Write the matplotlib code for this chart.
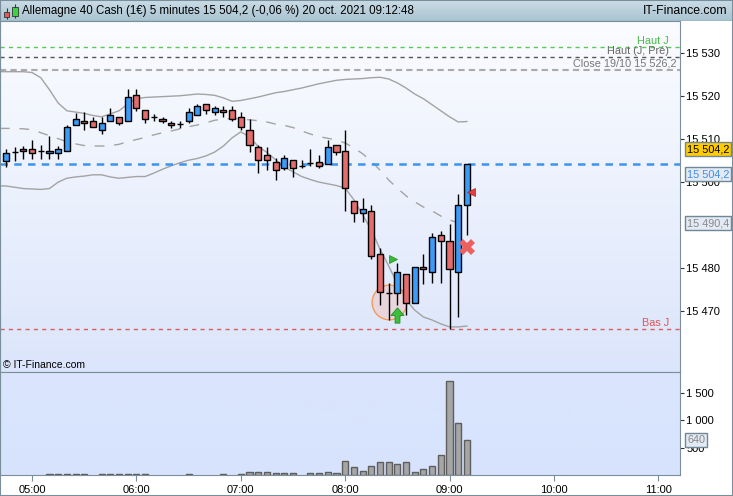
import matplotlib
matplotlib.use("Agg")
import matplotlib.pyplot as plt
import matplotlib.dates as mdates
import matplotlib.transforms as mtransforms
from matplotlib.colors import LinearSegmentedColormap
from matplotlib.patches import Rectangle
from matplotlib.path import Path
import numpy as np
import pandas as pd

plt.rcParams['font.family'] = ['Liberation Sans', 'DejaVu Sans']

# 5 minute bars, 04:45 -> 09:10
times = pd.date_range("2021-10-20 04:45", "2021-10-20 09:10", freq="5min")

opens = [15505.0, 15507.1, 15507.7, 15507.7, 15507.2, 15506.7, 15506.7, 15507.2, 15513.2, 15514.2,
         15514.2, 15512.1, 15514.2, 15515.1, 15514.2, 15520.2, 15516.7, 15515.1, 15514.6, 15513.7,
         15513.5, 15514.2, 15515.6, 15518.1, 15516.3, 15516.7, 15516.7, 15515.1, 15512.2, 15508.1,
         15506.3, 15504.6, 15503.2, 15505.1, 15503.7, 15504.4, 15504.6, 15504.2, 15508.6, 15507.2,
         15495.7, 15492.8, 15493.3, 15483.2, 15474.1, 15474.1, 15478.6, 15471.9, 15480.2, 15479.0,
         15487.6, 15486.2, 15479.0, 15494.6]
highs = [15507.7, 15508.2, 15508.3, 15509.8, 15508.7, 15510.8, 15508.5, 15513.3, 15516.0, 15516.3,
         15515.2, 15515.2, 15517.3, 15515.1, 15521.6, 15521.6, 15516.7, 15515.8, 15515.1, 15514.2,
         15514.2, 15517.2, 15518.1, 15518.1, 15517.7, 15517.7, 15517.7, 15516.3, 15514.6, 15508.6,
         15508.1, 15505.6, 15506.3, 15505.1, 15505.1, 15507.7, 15506.3, 15509.8, 15508.6, 15512.1,
         15495.7, 15496.3, 15494.6, 15484.6, 15476.5, 15481.1, 15478.6, 15480.2, 15483.2, 15488.1,
         15488.6, 15490.2, 15497.2, 15504.2]
lows = [15503.6, 15505.0, 15505.4, 15505.4, 15505.4, 15505.4, 15505.4, 15507.2, 15513.2, 15512.1,
        15512.8, 15511.1, 15514.2, 15513.2, 15514.2, 15516.6, 15513.7, 15514.2, 15513.7, 15512.7,
        15512.7, 15513.7, 15515.6, 15515.8, 15515.6, 15515.1, 15514.2, 15512.1, 15507.1, 15502.1,
        15502.8, 15500.6, 15502.8, 15501.1, 15503.2, 15503.7, 15503.2, 15504.2, 15506.3, 15493.2,
        15490.6, 15490.6, 15482.0, 15471.4, 15467.9, 15471.4, 15469.1, 15471.9, 15476.2, 15476.6,
        15476.6, 15465.8, 15468.5, 15487.6]
closes = [15506.7, 15507.1, 15507.2, 15506.7, 15507.2, 15507.2, 15507.7, 15512.8, 15514.6, 15513.7,
          15512.8, 15513.7, 15515.6, 15513.7, 15519.8, 15517.2, 15514.6, 15515.1, 15514.2, 15513.2,
          15513.5, 15516.3, 15517.7, 15516.7, 15517.2, 15516.3, 15514.6, 15512.8, 15508.6, 15505.1,
          15505.1, 15502.8, 15505.5, 15503.2, 15503.7, 15504.4, 15503.7, 15508.1, 15507.1, 15498.6,
          15492.8, 15493.7, 15482.7, 15474.5, 15474.1, 15479.0, 15471.9, 15480.2, 15479.7, 15487.2,
          15486.2, 15479.7, 15494.6, 15504.2]
volumes = [0, 0, 0, 0, 0, 25, 25, 25, 25, 25,
           0, 25, 25, 25, 25, 25, 25, 0, 0, 0,
           0, 25, 0, 0, 0, 25, 0, 25, 50, 55,
           50, 35, 35, 35, 0, 35, 35, 50, 35, 255,
           151, 78, 169, 242, 242, 195, 242, 60, 104, 169,
           358, 1709, 940, 640]

# Bollinger bands
bb_upper = [15525.7, 15525.7, 15525.7, 15525.5, 15524.3, 15521.5, 15518.4, 15516.6, 15516.3, 15516.0,
            15515.5, 15515.2, 15515.9, 15516.6, 15518.2, 15519.4, 15519.7, 15519.8, 15519.9, 15520.0,
            15520.1, 15520.3, 15520.5, 15520.4, 15520.2, 15519.6, 15518.8, 15519.0, 15519.4, 15519.8,
            15520.3, 15520.8, 15521.1, 15521.5, 15521.9, 15522.4, 15522.9, 15523.3, 15523.7, 15523.9,
            15524.0, 15524.1, 15524.3, 15524.4, 15524.0, 15523.1, 15521.9, 15520.5, 15519.4, 15518.0,
            15516.6, 15515.2, 15514.0, 15514.1]
bb_mid = [15512.5, 15512.5, 15512.4, 15512.2, 15511.5, 15510.8, 15510.1, 15509.4, 15508.9, 15508.5,
          15508.4, 15508.4, 15508.5, 15508.8, 15509.4, 15509.9, 15510.4, 15511.0, 15511.5, 15511.9,
          15512.4, 15512.9, 15513.3, 15513.8, 15514.4, 15514.7, 15514.8, 15514.7, 15514.5, 15514.3,
          15514.0, 15513.5, 15513.2, 15512.7, 15511.9, 15511.2, 15510.6, 15510.2, 15509.8, 15509.1,
          15508.0, 15506.6, 15504.9, 15502.8, 15500.5, 15498.6, 15496.8, 15495.4, 15494.2, 15493.3,
          15492.1, 15491.2, 15490.5, 15490.4]
bb_lower = [15499.1, 15498.8, 15498.5, 15498.4, 15498.3, 15498.5, 15500.0, 15500.9, 15501.2, 15501.4,
            15501.7, 15501.7, 15501.2, 15500.9, 15501.1, 15501.3, 15501.3, 15502.1, 15503.0, 15503.8,
            15504.5, 15505.1, 15505.5, 15506.1, 15507.0, 15508.4, 15510.3, 15511.7, 15510.5, 15508.3,
            15506.9, 15505.2, 15503.5, 15502.4, 15501.3, 15500.6, 15500.0, 15499.6, 15499.2, 15498.6,
            15495.9, 15492.4, 15488.9, 15484.4, 15480.5, 15476.3, 15472.6, 15470.2, 15468.6, 15467.9,
            15467.0, 15466.3, 15466.3, 15466.5]

# reference levels
haut_j = 15531.5
haut_pre = 15529.1
close_prev = 15526.2
bas_j = 15465.8
last_price = 15504.2

# signals (bar index, price)
circle_sig = (44, 15472.2)
buy_arrow = (45, 15469.1)
green_tri = (45, 15482.1)
red_cross = (53, 15485.0)
red_tri = (53, 15497.6)

# 15 490 sits under the Bollinger tag in the original, so it is left out
price_ticks = [15470, 15480, 15500, 15510, 15520, 15530]
vol_ticks = [500, 1000, 1500]
hour_ticks = pd.date_range("2021-10-20 05:00", "2021-10-20 11:00", freq="1h")

opens, highs, lows, closes = map(np.array, (opens, highs, lows, closes))
volumes = np.array(volumes)
x = mdates.date2num(times.to_pydatetime())
step = 5 / 1440.0
bar_w = step * 0.7

W, H = 733, 496


def px_box(x0, y0, x1, y1):
    return [x0 / W, 1 - y1 / H, (x1 - x0) / W, (y1 - y0) / H]


def spaced(v, pos=None):
    return f"{v:,.0f}".replace(",", " ")


fig = plt.figure(figsize=(W / 100, H / 100), dpi=100)
fig.patch.set_facecolor('white')

ax = fig.add_axes(px_box(0, 21, 680, 372))
axv = fig.add_axes(px_box(0, 372, 680, 475))
axh = fig.add_axes(px_box(0, 0, 733, 21))

edge_col = '#7a8e9c'

# backgrounds
grad = np.linspace(0, 1, 256).reshape(-1, 1)
cm_main = LinearSegmentedColormap.from_list('m', ['#fbfcff', '#dbe5fb'])
cm_vol = LinearSegmentedColormap.from_list('v', ['#dbe5fd', '#d7e3fd'])
cm_head = LinearSegmentedColormap.from_list('h', ['#cadde7', '#a9c3d0'])
for a, cm in ((ax, cm_main), (axv, cm_vol), (axh, cm_head)):
    a.imshow(grad, cmap=cm, extent=[0, 1, 0, 1], transform=a.transAxes,
             aspect='auto', zorder=0)

xlim = (x[0] - 0.69 * step, x[0] + 77.5 * step)

# ---- main price panel
ax.set_xlim(*xlim)
ax.set_ylim(15455.8, 15537.5)

# bands start a little left of the first bar, like the original
band_x = np.concatenate(([xlim[0]], x))
ax.plot(band_x, [bb_upper[0]] + bb_upper, color='#a3a3a3', lw=1, zorder=2)
ax.plot(band_x, [bb_lower[0]] + bb_lower, color='#a3a3a3', lw=1, zorder=2)
ax.plot(band_x, [bb_mid[0]] + bb_mid, color='#a3a3a3', lw=1, dashes=(7, 7), zorder=2)

ax.axhline(haut_j, color='#55c855', lw=1, dashes=(3, 3), zorder=1)
ax.axhline(haut_pre, color='#555555', lw=1, dashes=(3, 3), zorder=1)
ax.axhline(close_prev, color='#aaaaaa', lw=1.5, dashes=(3, 2), zorder=1)
ax.axhline(bas_j, color='#e05a5a', lw=1, dashes=(3, 3), zorder=1)
ax.axhline(last_price, color='#3a94f0', lw=1.8, dashes=(3, 2.5), zorder=2)

lvl_tr = mtransforms.blended_transform_factory(ax.transAxes, ax.transData)
lvl_tr = mtransforms.offset_copy(lvl_tr, fig=fig, y=1, units='dots')
ax.text(0.984, haut_j, "Haut J", color='#46bd46', fontsize=7.8, ha='right', va='bottom', transform=lvl_tr)
ax.text(0.984, haut_pre, "Haut (J, Pré)", color='#666666', fontsize=7.8, ha='right', va='bottom', transform=lvl_tr)
ax.text(0.995, close_prev, "Close 19/10 15 526,2", color='#777777', fontsize=7.8, ha='right', va='bottom', transform=lvl_tr)
ax.text(0.984, bas_j, "Bas J", color='#e05555', fontsize=7.8, ha='right', va='bottom', transform=lvl_tr)

# signal circle behind candles
ax.plot(x[circle_sig[0]], circle_sig[1], marker='o', markersize=25,
        markerfacecolor=(0.93, 0.80, 0.80, 0.65), markeredgecolor='#f59a5a',
        markeredgewidth=1, zorder=2.5)

up = closes >= opens
body_cols = np.where(up, '#3a9cf7', '#e46c6c')
ax.vlines(x, lows, highs, color='black', lw=1, zorder=3)
ax.bar(x, closes - opens, bottom=opens, width=bar_w, color=body_cols,
       edgecolor='black', linewidth=1, zorder=4)

arrow_path = Path([(-0.32, -1), (0.32, -1), (0.32, 0), (0.85, 0), (0, 1), (-0.85, 0), (-0.32, 0), (-0.32, -1)],
                  closed=True)
ax.plot(x[buy_arrow[0]], buy_arrow[1], marker=arrow_path, markersize=11,
        color='#3cc03c', markeredgecolor='#1f8f1f', markeredgewidth=0.6, zorder=5)
ax.plot(x[green_tri[0]] - 0.45 * step, green_tri[1], marker='>', markersize=6,
        color='#36b936', markeredgecolor='#1f8f1f', markeredgewidth=0.5, zorder=5)
ax.plot(x[red_cross[0]], red_cross[1], marker='X', markersize=11,
        color='#ec6060', markeredgewidth=0, zorder=5)
ax.plot(x[red_tri[0]] + 0.45 * step, red_tri[1], marker='<', markersize=6,
        color='#e04040', markeredgecolor='#b02020', markeredgewidth=0.5, zorder=5)

ax.text(0.005, 0.02, "© IT-Finance.com", transform=ax.transAxes, fontsize=7.5,
        ha='left', va='center', color='black')

ax.yaxis.tick_right()
ax.set_yticks(price_ticks)
ax.yaxis.set_major_formatter(plt.FuncFormatter(spaced))
ax.tick_params(axis='y', direction='out', length=3, width=0.8, pad=1.5,
               labelsize=8, colors='#333333', labelcolor='black')
ax.tick_params(axis='x', bottom=False, labelbottom=False)
for s in ax.spines.values():
    s.set_color(edge_col)

# price tags on the right
tag_tr = mtransforms.blended_transform_factory(ax.transAxes, ax.transData)


def price_tag(a, tr, val, txt, fc, tc, dy=0):
    t = mtransforms.offset_copy(tr, fig=fig, x=7, y=dy, units='dots')
    a.text(1.0, val, txt, transform=t, ha='left', va='center', fontsize=7.8,
           color=tc, clip_on=False, zorder=10,
           bbox=dict(boxstyle='square,pad=0.18', fc=fc, ec='#6f8798', lw=1))


price_tag(ax, tag_tr, last_price, "15 504,2", '#ffcc00', 'black', dy=15)
price_tag(ax, tag_tr, last_price, "15 504,2", '#e3eaf4', '#3d8ee8', dy=-10)
price_tag(ax, tag_tr, bb_mid[-1], "15 490,4", '#e3eaf4', '#888888')

# ---- volume panel
axv.set_xlim(*xlim)
axv.set_ylim(0, 1873)
has_vol = volumes > 0
axv.bar(x[has_vol], volumes[has_vol], width=bar_w, color='#a6a6a6',
        edgecolor='#5e5e5e', linewidth=1, zorder=3)
axv.yaxis.tick_right()
axv.set_yticks(vol_ticks)
axv.yaxis.set_major_formatter(plt.FuncFormatter(spaced))
axv.tick_params(axis='y', direction='out', length=3, width=0.8, pad=1.5,
                labelsize=8, colors='#333333', labelcolor='black')
axv.set_xticks(mdates.date2num(hour_ticks.to_pydatetime()))
axv.xaxis.set_major_formatter(mdates.DateFormatter('%H:%M'))
axv.tick_params(axis='x', direction='out', length=4, width=0.8, pad=3,
                labelsize=8, colors='#7a8e9c', labelcolor='black')
for s in axv.spines.values():
    s.set_color(edge_col)
vtag_tr = mtransforms.blended_transform_factory(axv.transAxes, axv.transData)
price_tag(axv, vtag_tr, volumes[-1], "640", '#e3eaf4', '#888888')

# ---- header bar
axh.set_xlim(0, W)
axh.set_ylim(21, 0)
axh.axis('off')
axh.vlines([6.5, 15], [8, 4], [19, 18], color='#333333', lw=0.8, zorder=2)
axh.add_patch(Rectangle((3.8, 11.7), 5.5, 5.6, fc='#e25a5a', ec='#333333', lw=0.6, zorder=3))
axh.add_patch(Rectangle((12.2, 7.3), 5.6, 8.7, fc='#3fd23f', ec='#333333', lw=0.6, zorder=3))
axh.text(22, 11, "Allemagne 40 Cash (1€) 5 minutes 15 504,2 (-0,06 %) 20 oct. 2021 09:12:48",
         fontsize=8.3, va='center', ha='left', color='black')
axh.text(728, 11, "IT-Finance.com", fontsize=8.8, va='center', ha='right', color='black')
axh.axhline(20.5, color='#7896a8', lw=1)

fig.add_artist(Rectangle((0, 0), 1, 1, transform=fig.transFigure, fill=False,
                         ec=edge_col, lw=1.5))

fig.savefig("out.png", dpi=100)
